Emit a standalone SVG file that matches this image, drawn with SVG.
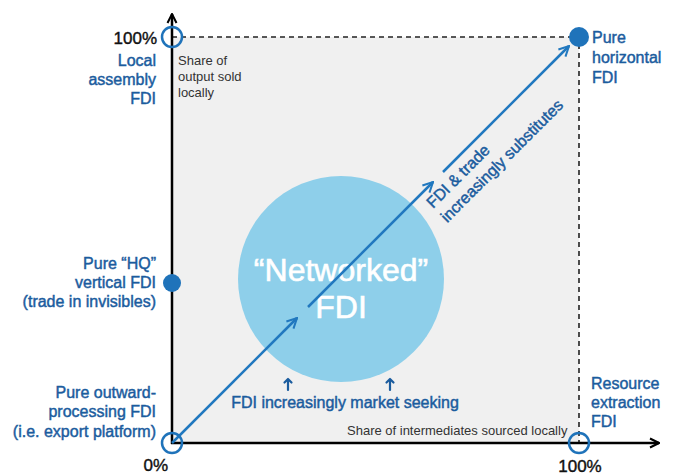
<svg xmlns="http://www.w3.org/2000/svg" width="678" height="475" viewBox="0 0 678 475">
<style>
text{font-family:"Liberation Sans",Arial,sans-serif}
.lbl{font-size:16px;fill:#1b5c9e;stroke:#1b5c9e;stroke-width:0.45}
.ax{font-size:17px;fill:#111;stroke:#111;stroke-width:0.4}
.note{font-size:13px;fill:#333}
.dash{stroke:#222;stroke-width:1.6;stroke-dasharray:5 4;fill:none}
.open{fill:none;stroke:#1f73ba;stroke-width:2.5}
.dot{fill:#1f73ba}
.diag{stroke:#2178bf;stroke-width:2.5;fill:none}
.small{stroke:#1b5c9e;stroke-width:2.2;fill:none;stroke-linecap:round;stroke-linejoin:round}
</style>
<defs>
<marker id="chev" viewBox="0 0 10 10" refX="9" refY="5" markerWidth="5" markerHeight="5" orient="auto" markerUnits="strokeWidth">
<path d="M1,1 L9,5 L1,9" fill="none" stroke="context-stroke" stroke-width="1.6"/>
</marker>
<marker id="axhead" viewBox="0 0 10 10" refX="9" refY="5" markerWidth="4.5" markerHeight="4.5" orient="auto" markerUnits="strokeWidth">
<path d="M1,1 L9,5 L1,9" fill="none" stroke="#000" stroke-width="1.8"/>
</marker>
</defs>
<rect width="678" height="475" fill="#fff"/>
<rect id="field" x="172" y="37" width="407" height="406" fill="#f0f0f0"/>
<g id="big-circle">
<circle cx="341" cy="279" r="103" fill="#8ecfea"/>
<text x="341" y="281" text-anchor="middle" font-size="32" fill="#fff" stroke="#fff" stroke-width="0.6">“Networked”</text>
<text x="341" y="318" text-anchor="middle" font-size="32" fill="#fff" stroke="#fff" stroke-width="0.6">FDI</text>
</g>
<g id="connectors">
<path class="dash" d="M172,37 H579 V443"/>
<path d="M172,444 V14" stroke="#000" stroke-width="2.5" marker-end="url(#axhead)"/>
<path d="M171,443 H659" stroke="#000" stroke-width="2.5" marker-end="url(#axhead)"/>
<path class="diag" d="M172,443 L297,318" marker-end="url(#chev)"/>
<path class="diag" d="M308,307 L433,182" marker-end="url(#chev)"/>
<path class="diag" d="M443,172 L569,46" marker-end="url(#chev)"/>
<path class="small" d="M288,390 V379 M284.5,382.5 L288,379 L291.5,382.5"/>
<path class="small" d="M390,390 V379 M386.5,382.5 L390,379 L393.5,382.5"/>
</g>
<g id="n-local">
<circle class="open" cx="172" cy="37" r="10"/>
<text class="ax" x="157" y="44" text-anchor="end">100%</text>
<text class="lbl" text-anchor="end"><tspan x="156" y="66">Local</tspan><tspan x="156" y="85">assembly</tspan><tspan x="156" y="104">FDI</tspan></text>
<text class="note"><tspan x="178" y="65">Share of</tspan><tspan x="178" y="81">output sold</tspan><tspan x="178" y="97">locally</tspan></text>
</g>
<g id="n-horizontal">
<circle class="dot" cx="579" cy="37" r="10"/>
<text class="lbl"><tspan x="592" y="43">Pure</tspan><tspan x="592" y="63">horizontal</tspan><tspan x="592" y="83">FDI</tspan></text>
</g>
<g id="n-hq">
<circle class="dot" cx="172" cy="283" r="9"/>
<text class="lbl" text-anchor="end"><tspan x="156" y="269">Pure “HQ”</tspan><tspan x="156" y="288">vertical FDI</tspan><tspan x="156" y="307">(trade in invisibles)</tspan></text>
</g>
<g id="n-outward">
<circle class="open" cx="172" cy="443" r="10"/>
<text class="lbl" text-anchor="end"><tspan x="156" y="398">Pure outward-</tspan><tspan x="156" y="417">processing FDI</tspan><tspan x="156" y="437">(i.e. export platform)</tspan></text>
<text class="ax" x="168" y="471" text-anchor="end">0%</text>
</g>
<g id="n-resource">
<circle class="open" cx="579" cy="443" r="10"/>
<text class="lbl"><tspan x="591" y="389">Resource</tspan><tspan x="591" y="408">extraction</tspan><tspan x="591" y="427">FDI</tspan></text>
<text class="ax" x="580" y="472" text-anchor="middle">100%</text>
<text class="note" x="347" y="435">Share of intermediates sourced locally</text>
</g>
<g id="labels">
<text class="lbl" x="345" y="408" text-anchor="middle">FDI increasingly market seeking</text>
<g transform="translate(433,209) rotate(-45)">
<text class="lbl"><tspan x="0" y="0">FDI &amp; trade</tspan><tspan x="0" y="20">increasingly substitutes</tspan></text>
</g>
</g>
</svg>
